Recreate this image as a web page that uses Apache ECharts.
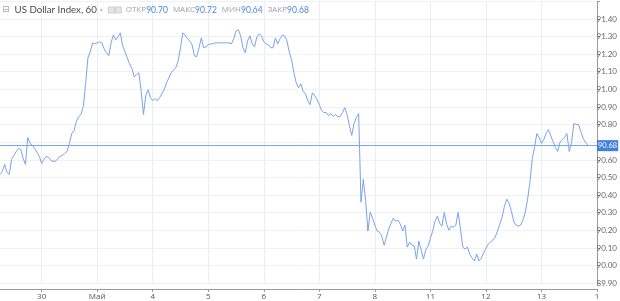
<!DOCTYPE html>
<html>
<head>
<meta charset="utf-8">
<script src="https://cdn.jsdelivr.net/npm/echarts@6/dist/echarts.min.js"></script>
<style>html,body{margin:0;padding:0;background:#fff}#c{width:620px;height:301px}</style>
</head>
<body>
<div id="c"></div>
<script>
// Day boundary labels on the time axis (hourly bars)
var dayLabels = ['30', 'Май', '4', '5', '6', '7', '8', '11', '12', '13', '1'];
var firstDayIndex = 18;   // hour index of the first day label
var hoursPerDay = 24;
var totalHours = 259;

// Hourly closes of US Dollar Index
var closes = [
90.517,90.534,90.574,90.528,90.517,90.602,90.625,90.647,90.664,90.659,
90.608,90.574,90.727,90.693,90.681,90.664,90.642,90.619,90.579,90.602,
90.619,90.613,90.596,90.591,90.591,90.608,90.619,90.625,90.636,90.647,
90.693,90.749,90.766,90.817,90.845,90.857,90.902,91.032,91.179,91.213,
91.264,91.258,91.264,91.270,91.264,91.230,91.208,91.191,91.264,91.309,
91.281,91.298,91.321,91.247,91.213,91.179,91.145,91.117,91.072,91.083,
91.094,90.992,90.857,90.964,90.998,90.953,90.936,90.947,90.936,90.953,
90.976,90.998,91.038,91.066,91.094,91.111,91.123,91.162,91.236,91.321,
91.309,91.287,91.275,91.253,91.191,91.185,91.236,91.292,91.236,91.242,
91.253,91.258,91.258,91.264,91.264,91.264,91.264,91.264,91.264,91.264,
91.258,91.287,91.332,91.338,91.304,91.236,91.208,91.275,91.304,91.258,
91.242,91.298,91.315,91.304,91.270,91.258,91.253,91.236,91.236,91.292,
91.258,91.287,91.309,91.304,91.275,91.213,91.168,91.094,91.038,91.009,
91.032,90.987,90.976,90.936,90.913,90.981,90.964,90.942,90.913,90.879,
90.868,90.868,90.851,90.862,90.845,90.857,90.845,90.845,90.868,90.896,
90.857,90.794,90.738,90.806,90.840,90.862,90.359,90.489,90.370,90.195,
90.302,90.268,90.229,90.195,90.189,90.166,90.115,90.161,90.206,90.240,
90.268,90.251,90.257,90.234,90.195,90.229,90.104,90.132,90.115,90.110,
90.036,90.138,90.087,90.036,90.087,90.110,90.155,90.195,90.251,90.280,
90.240,90.223,90.302,90.234,90.200,90.223,90.217,90.229,90.302,90.206,
90.104,90.093,90.104,90.064,90.042,90.025,90.064,90.025,90.042,90.070,
90.098,90.121,90.132,90.144,90.161,90.195,90.234,90.274,90.336,90.376,
90.353,90.308,90.251,90.229,90.223,90.229,90.257,90.302,90.376,90.472,
90.602,90.670,90.749,90.727,90.693,90.715,90.749,90.772,90.738,90.704,
90.670,90.647,90.698,90.715,90.727,90.749,90.647,90.698,90.806,90.800,
90.800,90.760,90.721,90.698,90.684
];

// Y axis ticks (plot range) and label-axis range (one extra step below, off canvas)
var yMin = 89.9, yMax = 91.5, yStep = 0.1;
var yLabelMin = 89.8;

// Header
var titleText = 'US Dollar Index, 60';
var headerLabels = ['ОТКР', 'МАКС', 'МИН', 'ЗАКР'];
var headerValues = [90.70, 90.72, 90.64, 90.68];
var lastClose = 90.68;

var categories = [];
for (var i = 0; i < totalHours; i++) {
  var k = i - firstDayIndex;
  categories.push(k >= 0 && k % hoursPerDay === 0 ? (dayLabels[k / hoursPerDay] || '') : '');
}
function isDay(idx) {
  var k = idx - firstDayIndex;
  return k >= 0 && k % hoursPerDay === 0 && (k / hoursPerDay) < dayLabels.length;
}

var header = '{ic|⊟}{name|' + titleText + '}{arr|▾}{bx| }{gap| }{bx| }';
for (var j = 0; j < headerLabels.length; j++) {
  header += '{lab|' + headerLabels[j] + '}{val|' + headerValues[j].toFixed(2) + '}';
}

var FONT = 'Lato';
var CYR = 'Open Sans';
var PLOT_TOP = 1.3, PLOT_BOTTOM = 17, LABEL_BOTTOM = -0.7;
var chart = echarts.init(document.getElementById('c'));
chart.setOption({
  animation: false,
  textStyle: { fontFamily: FONT },
  title: {
    text: header,
    left: 0, top: 5, padding: [0, 0, 0, 2],
    textStyle: {
      fontFamily: FONT, fontWeight: 'normal',
      rich: {
        ic: { fontSize: 9, color: '#aaa', fontFamily: 'DejaVu Sans', fontWeight: 'normal', padding: [0, 5, 0, 0] },
        name: { fontSize: 9.7, color: '#4a4a4a', fontFamily: FONT, fontWeight: 'normal' },
        arr: { fontSize: 6, color: '#bbb', fontFamily: 'DejaVu Sans', fontWeight: 'normal', padding: [0, 6, 0, 3] },
        bx: { width: 5, height: 5, backgroundColor: '#e6e6e6', borderColor: '#cfcfcf', borderWidth: 1, fontSize: 5 },
        gap: { width: 2, fontSize: 5 },
        lab: { fontSize: 8, color: '#a0a0a0', fontFamily: CYR, fontWeight: 'normal', padding: [0, 0, 0, 5] },
        val: { fontSize: 8.5, color: '#4a86e0', fontFamily: FONT, fontWeight: 'normal' }
      }
    }
  },
  grid: [
    { left: 0, right: 23, top: PLOT_TOP, bottom: PLOT_BOTTOM, containLabel: false },
    { left: 0, right: 23, top: PLOT_TOP, bottom: LABEL_BOTTOM, containLabel: false }
  ],
  xAxis: [{
    type: 'category',
    gridIndex: 0,
    data: categories,
    boundaryGap: false,
    offset: 6,
    axisLine: { show: true, lineStyle: { color: '#9a9a9a', width: 1 } },
    axisTick: { show: true, length: 3, interval: function (idx) { return isDay(idx); }, lineStyle: { color: '#9a9a9a' } },
    axisLabel: { interval: function (idx) { return isDay(idx); }, fontSize: 8, color: '#555', margin: 4, fontFamily: CYR },
    splitLine: { show: true, interval: function (idx) { return isDay(idx); }, lineStyle: { color: '#e9eef4', width: 1 } }
  }, {
    type: 'value', gridIndex: 1, show: false, min: 0, max: 1
  }],
  yAxis: [{
    type: 'value',
    gridIndex: 0,
    position: 'right',
    min: yMin, max: yMax, interval: yStep,
    axisLine: { show: true, lineStyle: { color: '#9a9a9a', width: 1 } },
    axisTick: { show: true, length: 3, lineStyle: { color: '#9a9a9a' } },
    axisLabel: { show: false },
    splitLine: { show: true, lineStyle: { color: '#eef1f6', width: 1 } }
  }, {
    type: 'value',
    gridIndex: 1,
    position: 'right',
    min: yLabelMin, max: yMax, interval: yStep,
    axisLine: { show: false },
    axisTick: { show: false },
    splitLine: { show: false },
    axisLabel: {
      fontSize: 8, color: '#666', margin: 4, fontFamily: FONT,
      showMaxLabel: false, showMinLabel: false, hideOverlap: false,
      formatter: function (v) { return Math.abs(v - lastClose) < 0.05 ? '' : v.toFixed(2); }
    }
  }],
  series: [{
    type: 'line',
    xAxisIndex: 0, yAxisIndex: 0,
    data: closes,
    symbol: 'none',
    color: '#7aa3e8',
    lineStyle: { color: '#7aa3e8', width: 1 },
    markLine: {
      silent: true,
      symbol: ['none', 'none'],
      lineStyle: { color: '#7aa5ea', width: 1, type: 'solid', opacity: 1 },
      label: {
        position: 'end', distance: 0,
        formatter: lastClose.toFixed(2),
        backgroundColor: '#3f7fdd', color: '#fff', fontSize: 7.5, fontFamily: FONT,
        padding: [2, 1, 1, 1]
      },
      data: [{ yAxis: lastClose }]
    }
  }]
});
</script>
</body>
</html>
